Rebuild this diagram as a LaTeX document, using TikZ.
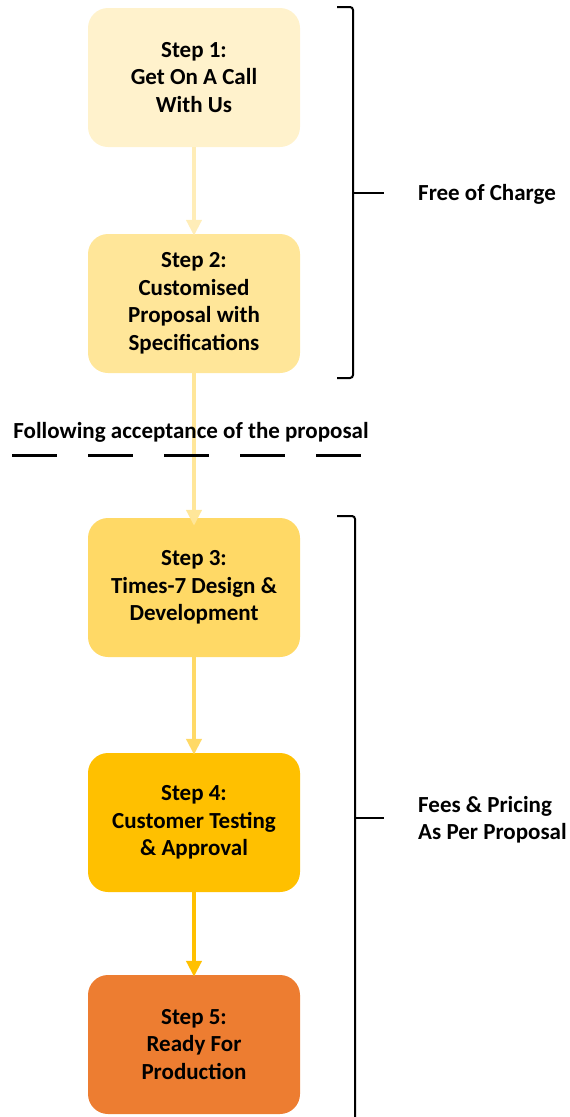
\documentclass[tikz,border=0pt]{standalone}
\usepackage{fontspec}
\setmainfont{Carlito}
\usetikzlibrary{arrows.meta}
\definecolor{c1}{HTML}{FFF2CC}
\definecolor{c2}{HTML}{FFE699}
\definecolor{c3}{HTML}{FFD966}
\definecolor{c4}{HTML}{FFC000}
\definecolor{c5}{HTML}{ED7D31}
\definecolor{a1}{HTML}{FFEDB8}
\tikzset{
  stepbox/.style={rounded corners=20pt, minimum width=212pt, minimum height=139pt,
    align=center, font=\fontsize{23}{27.5}\selectfont\bfseries, inner sep=0pt},
  flow/.style={line width=4pt, -{Triangle[width=15pt,length=16pt]}},
  brace/.style={line width=2pt, rounded corners=3pt},
  lbl/.style={anchor=west, align=left, font=\fontsize{23}{27}\selectfont\bfseries, inner sep=0pt}
}
\begin{document}
\begin{tikzpicture}[x=1pt,y=-1pt]
\useasboundingbox (0,0) rectangle (570,1117);
\node[stepbox, fill=c1] (s1) at (194,77.5) {Step 1:\\Get On A Call\\With Us};
\node[stepbox, fill=c2] (s2) at (194,303.5) {Step 2:\\Customised\\Proposal with\\Specifications};
\node[stepbox, fill=c3] (s3) at (194,587.5) {Step 3:\\Times-7 Design \&\\Development};
\node[stepbox, fill=c4] (s4) at (194,822.5) {Step 4:\\Customer Testing\\\& Approval};
\node[stepbox, fill=c5] (s5) at (194,1044.5) {Step 5:\\Ready For\\Production};
% connectors
\draw[flow, draw=a1, fill=a1] (s1.south) -- ([yshift=-2pt]s2.north);
\draw[flow, draw=c2, fill=c2] (s2.south) -- ([yshift=-8pt]s3.north);
\draw[flow, draw=c3, fill=c3] (s3.south) -- ([yshift=-2pt]s4.north);
\draw[flow, draw=c4, fill=c4] (s4.south) -- ([yshift=-2pt]s5.north);
% separator
\node[font=\fontsize{23}{27}\selectfont\bfseries, inner sep=0pt] (sep) at (191,432) {Following acceptance of the proposal};
\coordinate (d1) at (12,455);
\coordinate (d2) at (362,455);
\draw[line width=3pt, dash pattern=on 45pt off 31pt] (d1) -- (d2);
% brace 1
\coordinate (b1t) at (337,7);
\coordinate (b1b) at (337,378);
\coordinate (b1m) at (353,193);
\coordinate (b1e) at (384,193);
\draw[brace] (b1t) -- (353,7) -- (353,378) -- (b1b);
\draw[line width=2pt] (b1m) -- (b1e);
\node[lbl] (free) at (418,194) {Free of Charge};
% brace 2
\coordinate (b2t) at (337,516);
\coordinate (b2b) at (355,1120);
\coordinate (b2m) at (355,818);
\coordinate (b2e) at (384,818);
\draw[brace] (b2t) -- (355,516) -- (b2b);
\draw[line width=2pt] (b2m) -- (b2e);
\node[lbl] (fees) at (418,820) {Fees \& Pricing\\As Per Proposal};
\end{tikzpicture}
\end{document}
